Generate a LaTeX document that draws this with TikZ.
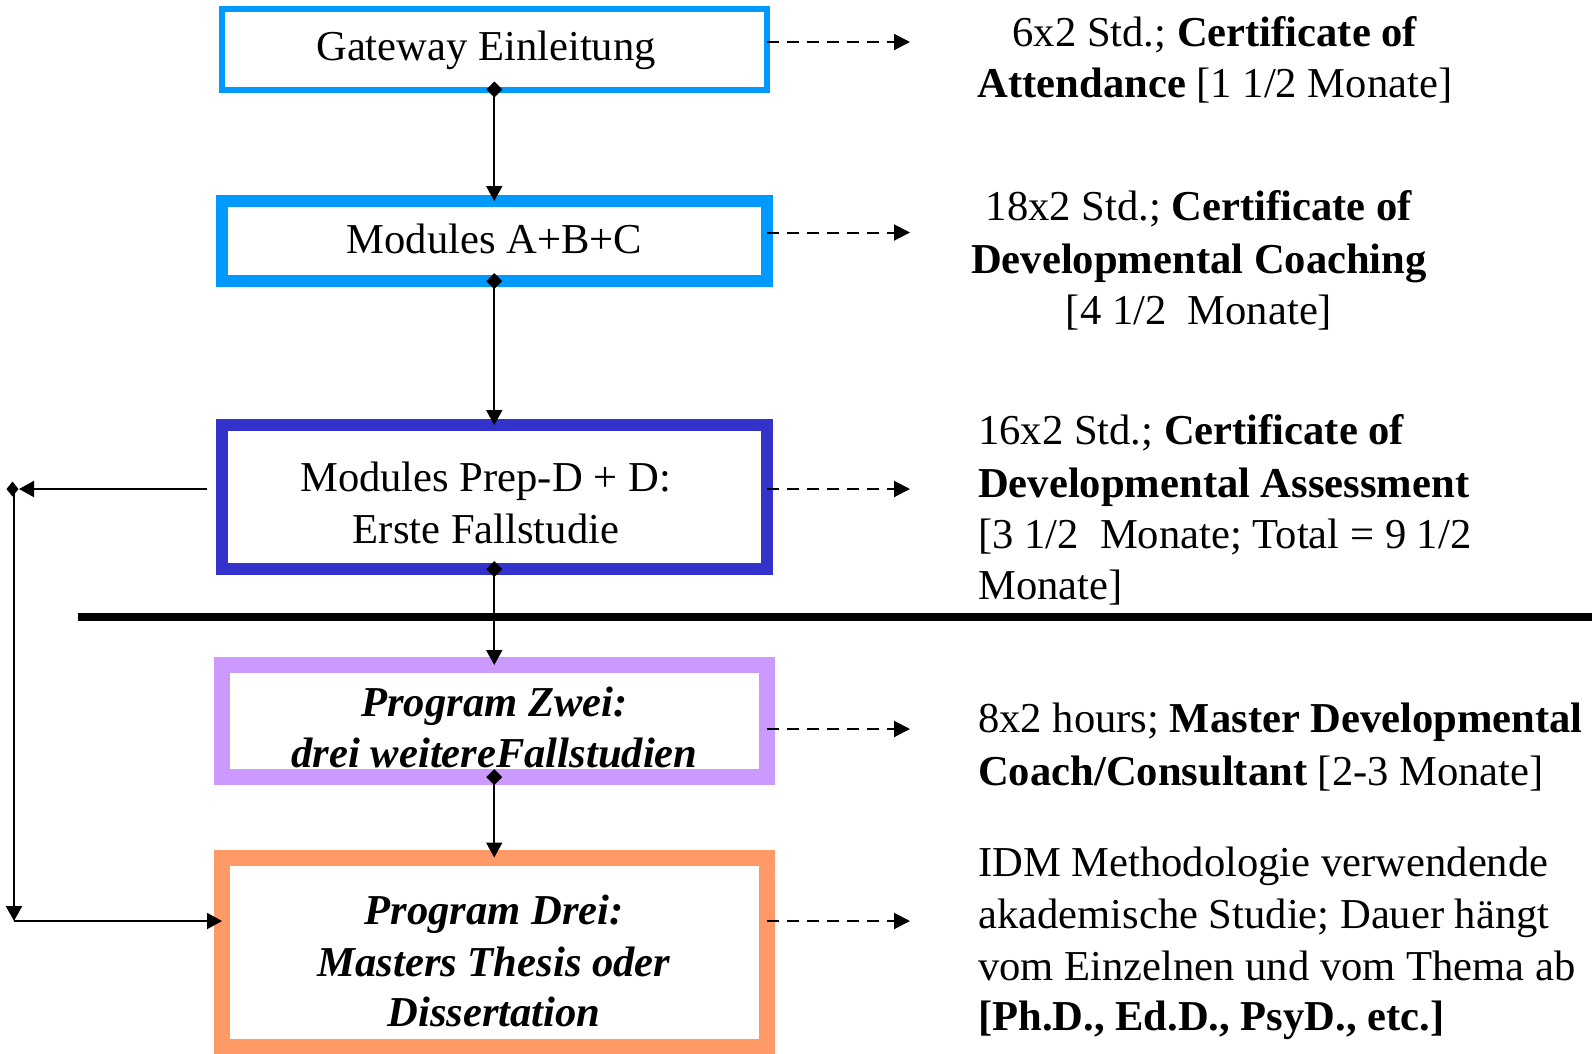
\documentclass[tikz,border=0pt]{standalone}
\usepackage{fontspec}
\setmainfont{Liberation Serif}
\usetikzlibrary{arrows.meta}
\definecolor{lblue}{HTML}{0099FF}
\definecolor{dblue}{HTML}{3333CC}
\definecolor{lpurple}{HTML}{CC99FF}
\definecolor{lorange}{HTML}{FF9966}
\begin{document}
\begin{tikzpicture}[x=1pt,y=-1pt,
  boxnode/.style={draw, rectangle, outer sep=0pt, inner sep=0pt, minimum width=544.5pt},
  txt/.style={inner sep=0pt, anchor=base, font=\fontsize{42.6pt}{52pt}\selectfont},
  ltxt/.style={txt, anchor=base west},
  bi/.style={txt, font=\fontsize{42.6pt}{52pt}\selectfont\bfseries\itshape},
  conn/.style={line width=2pt, -{Triangle[length=15pt,width=16pt]}},
  dconn/.style={line width=2pt, dash pattern=on 12pt off 8pt, -{Triangle[length=16pt,width=16pt]}},
  dmd/.style={fill=black}
]
\useasboundingbox (0,0) rectangle (1592,1053);

% boxes
\node[boxnode, draw=lblue, line width=6pt, minimum height=80.5pt] (b1) at (494.25,49.25) {};
\node[boxnode, draw=lblue, line width=12pt, minimum height=80pt] (b2) at (494.25,241) {};
\node[boxnode, draw=dblue, line width=12pt, minimum height=144pt] (b3) at (494.25,497) {};
\node[boxnode, draw=lpurple, line width=16pt, minimum height=112pt] (b4) at (494.25,721) {};
\node[boxnode, draw=lorange, line width=16pt, minimum height=189.5pt] (b5) at (494.25,952.25) {};

% separator line
\coordinate (s0) at (78,617);
\coordinate (s1) at (1592,617);
\draw[line width=8pt] (s0) -- (s1);

% vertical connectors
\draw[conn] (b1.south) -- (b2.north);
\draw[conn] (b2.south) -- (b3.north);
\draw[conn] (b3.south) -- (b4.north);
\draw[conn] (b4.south) -- (b5.north);
\foreach \n in {b1,b2,b3,b4}{
  \fill[dmd] (\n.south) +(0,-8) -- +(8,0) -- +(0,8) -- +(-8,0) -- cycle;
}

% left feedback connector
\coordinate (l0) at (207,489);
\coordinate (c1) at (14,489);
\coordinate (c2) at (14,921);
\draw[conn, shorten >=5pt] (l0) -- (c1);
\fill[dmd] (c1) +(-1.5,-7.5) -- +(4.5,0) -- +(-1.5,7.5) -- +(-7.5,0) -- cycle;
\draw[conn] (c1) -- (c2);
\draw[conn] (c2) -- (c2 -| b5.west);

% dashed arrows
\coordinate (e1) at (910,42);
\coordinate (e2) at (910,232.5);
\coordinate (e3) at (910,489);
\coordinate (e4) at (910,729);
\coordinate (e5) at (910,921);
\draw[dconn] (e1 -| b1.east) -- (e1);
\draw[dconn] (e2 -| b2.east) -- (e2);
\draw[dconn] (e3 -| b3.east) -- (e3);
\draw[dconn] (e4 -| b4.east) -- (e4);
\draw[dconn] (e5 -| b5.east) -- (e5);

% box texts
\node[txt] (t1) at (486,60) {Gateway Einleitung};
\node[txt] (t2) at (494.5,253) {Modules A+B+C};
\node[txt] (t3a) at (485.5,491) {Modules Prep-D + D:};
\node[txt] (t3b) at (486,543) {Erste Fallstudie};
\node[bi] (t4a) at (494.5,716) {Program Zwei:};
\node[bi] (t4b) at (494.5,767) {drei weitereFallstudien};
\node[bi] (t5a) at (494,924) {Program Drei:};
\node[bi] (t5b) at (494,976) {Masters Thesis oder};
\node[bi] (t5c) at (494,1026) {Dissertation};

% right texts
\node[txt] (r1a) at (1215,46) {6x2 Std.; \textbf{Certificate of}};
\node[txt] (r1b) at (1215,97) {\textbf{Attendance} [1 1/2 Monate]};
\node[txt] (r2a) at (1199,220) {18x2 Std.; \textbf{Certificate of}};
\node[txt] (r2b) at (1199,273) {\textbf{Developmental Coaching}};
\node[txt] (r2c) at (1199,324) {[4 1/2\ \ Monate]};
\node[ltxt] (r3a) at (978,444) {16x2 Std.; \textbf{Certificate of}};
\node[ltxt] (r3b) at (978,497) {\textbf{Developmental Assessment}};
\node[ltxt] (r3c) at (978,548) {[3 1/2\ \ Monate; Total = 9 1/2};
\node[ltxt] (r3d) at (978,599) {Monate]};
\node[ltxt] (r4a) at (978,732) {8x2 hours; \textbf{Master Developmental}};
\node[ltxt] (r4b) at (978,785) {\textbf{Coach/Consultant} [2-3 Monate]};
\node[ltxt] (r5a) at (978,876) {IDM Methodologie verwendende};
\node[ltxt] (r5b) at (978,928) {akademische Studie; Dauer hängt};
\node[ltxt] (r5c) at (978,980) {vom Einzelnen und vom Thema ab};
\node[ltxt] (r5d) at (978,1030) {\textbf{[Ph.D., Ed.D., PsyD., etc.]}};
\end{tikzpicture}
\end{document}
